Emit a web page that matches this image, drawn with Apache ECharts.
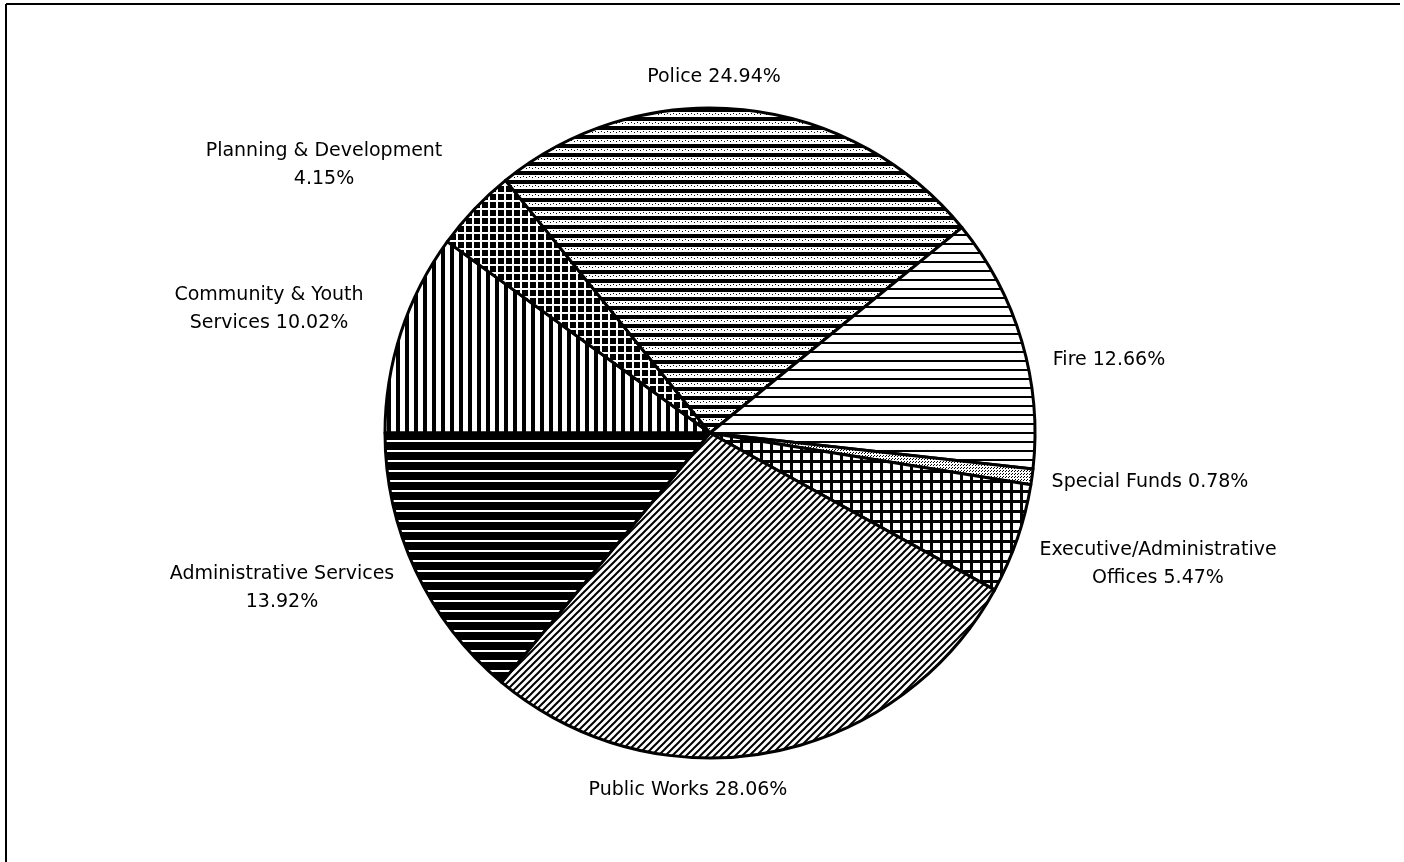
<!DOCTYPE html>
<html>
<head>
<meta charset="utf-8">
<script src="https://cdn.jsdelivr.net/npm/echarts@6/dist/echarts.min.js"></script>
<style>
html,body{margin:0;padding:0;background:#fff;}
#chart{width:1404px;height:862px;}
</style>
</head>
<body>
<div id="chart"></div>
<script>
// ---- Data (clockwise from 9 o'clock) ----
const categories = ['Community & Youth Services', 'Planning & Development', 'Police', 'Fire', 'Special Funds', 'Executive/Administrative Offices', 'Public Works', 'Administrative Services'];
const values = [10.02, 4.15, 24.94, 12.66, 0.78, 5.47, 28.06, 13.92];
// how each label wraps: 'name' = break inside name, 'value' = value on second line, '' = single line
const wrapMode = ['name', 'value', '', '', '', 'name', '', 'value'];

// ---- Layout (label centres) ----
const labelPos = [[269, 309], [324, 165], [714, 77], [1109, 360], [1150, 482], [1158, 564], [688, 790], [282, 588]];

// ---- Hatch patterns ----
function pattern(w, h, draw) {
  const c = document.createElement('canvas');
  c.width = w; c.height = h;
  const ctx = c.getContext('2d');
  ctx.fillStyle = '#fff';
  ctx.fillRect(0, 0, w, h);
  draw(ctx, w, h);
  return { image: c, repeat: 'repeat' };
}
const patterns = [
  // Community: vertical lines
  pattern(9, 4, (ctx, w, h) => { ctx.fillStyle = '#000'; ctx.fillRect(0, 0, 4, h); }),
  // Planning: black with white grid
  pattern(8, 8, (ctx, w, h) => { ctx.fillStyle = '#000'; ctx.fillRect(0, 0, w, h); ctx.fillStyle = '#fff'; ctx.fillRect(0, 0, w, 2); ctx.fillRect(0, 0, 2, h); }),
  // Police: thick horizontal lines with grainy fill
  pattern(6, 9, (ctx, w, h) => {
    ctx.fillStyle = '#000'; ctx.fillRect(0, 0, w, 4);
    ctx.fillRect(1, 5, 1, 1); ctx.fillRect(4, 6, 1, 1);
  }),
  // Fire: thin horizontal lines
  pattern(4, 9, (ctx, w, h) => { ctx.fillStyle = '#000'; ctx.fillRect(0, 0, w, 2); }),
  // Special funds: stipple
  pattern(3, 3, (ctx, w, h) => { ctx.fillStyle = '#000'; ctx.fillRect(0, 0, 1, 1); ctx.fillRect(1, 2, 1, 1); }),
  // Executive: grid
  pattern(10, 10, (ctx, w, h) => { ctx.fillStyle = '#000'; ctx.fillRect(0, 0, w, 3); ctx.fillRect(0, 0, 3, h); }),
  // Public works: diagonal "/"
  pattern(7, 7, (ctx, w, h) => {
    ctx.strokeStyle = '#000'; ctx.lineWidth = 2;
    ctx.beginPath();
    ctx.moveTo(0, h); ctx.lineTo(w, 0);
    ctx.moveTo(-2, 2); ctx.lineTo(2, -2);
    ctx.moveTo(w - 2, h + 2); ctx.lineTo(w + 2, h - 2);
    ctx.stroke();
  }),
  // Administrative services: black with thin white horizontal lines
  pattern(4, 10, (ctx, w, h) => { ctx.fillStyle = '#000'; ctx.fillRect(0, 0, w, h); ctx.fillStyle = '#fff'; ctx.fillRect(0, 0, w, 2); })
];

function labelText(i) {
  const name = categories[i];
  const v = values[i].toFixed(2) + '%';
  if (wrapMode[i] === 'value') return name + '\n' + v;
  if (wrapMode[i] === 'name') {
    const k = name.lastIndexOf(' ');
    return name.slice(0, k) + '\n' + name.slice(k + 1) + ' ' + v;
  }
  return name + ' ' + v;
}

const chart = echarts.init(document.getElementById('chart'), null, { renderer: 'canvas' });
chart.setOption({
  animation: false,
  backgroundColor: '#fff',
  graphic: [
    { type: 'line', shape: { x1: 6, y1: 4, x2: 1400, y2: 4 }, style: { stroke: '#000', lineWidth: 2 } },
    { type: 'line', shape: { x1: 6, y1: 4, x2: 6, y2: 862 }, style: { stroke: '#000', lineWidth: 2 } }
  ],
  series: [{
    type: 'pie',
    center: [710, 433],
    radius: 325,
    startAngle: 180,
    clockwise: true,
    avoidLabelOverlap: false,
    emphasis: { disabled: true },
    data: categories.map((c, i) => ({
      name: c,
      value: values[i],
      itemStyle: { color: patterns[i] }
    })),
    itemStyle: { borderColor: '#000', borderWidth: 3 },
    label: {
      show: true,
      position: 'outside',
      formatter: p => labelText(p.dataIndex),
      color: '#000',
      fontFamily: 'DejaVu Sans',
      fontSize: 19,
      lineHeight: 28,
      align: 'center'
    },
    labelLine: { show: false },
    labelLayout: p => ({
      x: labelPos[p.dataIndex][0],
      y: labelPos[p.dataIndex][1],
      align: 'center',
      verticalAlign: 'middle'
    })
  }]
});
</script>
</body>
</html>
